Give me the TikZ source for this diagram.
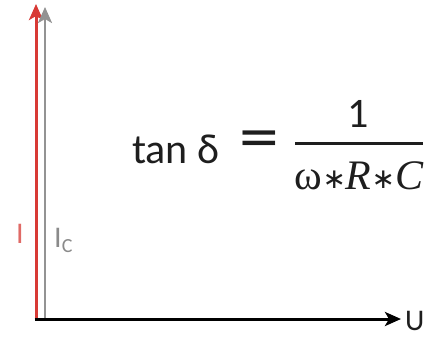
\documentclass[tikz,border=0pt]{standalone}
\usepackage{fontspec}
\setmainfont{Carlito}
\newfontfamily\serifgr{Liberation Serif}
\newfontfamily\dvs{DejaVu Sans}
\usetikzlibrary{arrows.meta}
\definecolor{cred}{HTML}{D83A35}
\definecolor{lred}{HTML}{E06A66}
\definecolor{cgray}{HTML}{939393}
\definecolor{dgray}{HTML}{8A8A8A}
\definecolor{ctext}{HTML}{1E1E1E}
\newcommand{\myast}{{\dvs\fontsize{28}{30}\selectfont\raisebox{1pt}{∗}}}
\begin{document}
\begin{tikzpicture}[x=1pt,y=-1pt,
  axis/.style={line width=3pt,-{Stealth[length=16pt,width=14pt,inset=4pt]}},
  lbl/.style={inner sep=0pt,font=\fontsize{30}{34}\selectfont},
  eq/.style={inner sep=0pt,text=ctext,font=\fontsize{42}{48}\selectfont}]
\useasboundingbox (0,0) rectangle (431,341);
\fill[white] (0,0) rectangle (431,341);
\coordinate (o) at (36,319);
\coordinate (ored) at (36,320);
\coordinate (ogray) at (45,320);
\coordinate (tred) at (36,4);
\coordinate (tgray) at (45,7);
\coordinate (tu) at (401,319);
\draw[axis,cred,line width=3pt] (ored) -- (tred);
\draw[axis,cgray,line width=2.5pt] (ogray) -- (tgray);
\draw[axis,black,line width=3pt] (34.5,319) -- (tu);
\node[lbl,text=lred,anchor=base] (li) at (20,243) {I};
\node[lbl,text=dgray,anchor=base west] (lic) at (54,247) {I{\fontsize{20}{22}\selectfont\raisebox{-5pt}{C}}};
\node[lbl,text=ctext,anchor=base west] (lu) at (405,330) {U};
\node[eq,anchor=base west] (tan) at (132,163) {tan δ};
\node[eq,anchor=center,font=\dvs\fontsize{52}{56}\selectfont] (eqs) at (259.5,142.5) {=};
\node[eq,anchor=base] (num) at (358,127) {1};
\coordinate (fl) at (295,143.5);
\coordinate (fr) at (423,143.5);
\draw[ctext,line width=2.6pt] (fl) -- (fr);
\node[eq,anchor=base] (den) at (359,189) {{\serifgr ω}\myast{\serifgr\itshape R}\myast{\serifgr\itshape C}};
\end{tikzpicture}
\end{document}
